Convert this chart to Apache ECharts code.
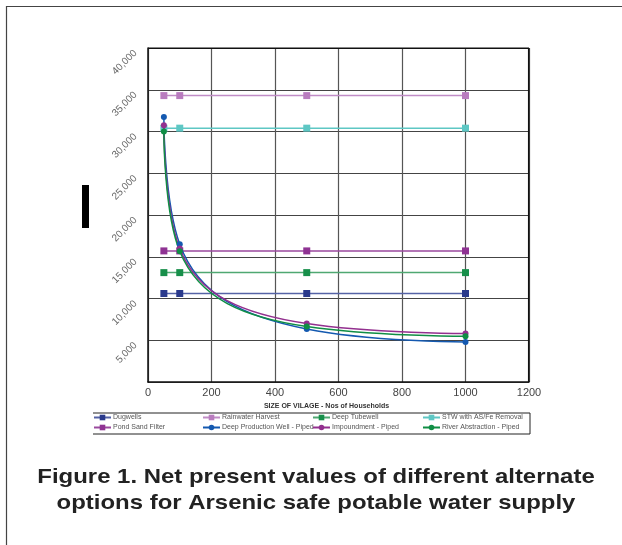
<!DOCTYPE html>
<html>
<head>
<meta charset="utf-8">
<script src="https://cdn.jsdelivr.net/npm/echarts@6/dist/echarts.min.js"></script>
<style>
html,body{margin:0;padding:0;background:#fff;}
#c{width:622px;height:545px;}
</style>
</head>
<body>
<div id="c"></div>
<script>
// Data
const xHouseholds = [50, 100, 500, 1000];
const xTicks = [0, 200, 400, 600, 800, 1000, 1200];
const yTicks = [0, 5000, 10000, 15000, 20000, 25000, 30000, 35000, 40000];
const seriesNames = ['Dugwells', 'Rainwater Harvest', 'Deep Tubewell', 'STW with AS/Fe Removal',
  'Pond Sand Filter', 'Deep Production Well - Piped', 'Impoundment - Piped', 'River Abstraction - Piped'];
const dugwells = [10600, 10600, 10600, 10600];
const rainwaterHarvest = [34300, 34300, 34300, 34300];
const deepTubewell = [13100, 13100, 13100, 13100];
const stwAsFe = [30400, 30400, 30400, 30400];
const pondSandFilter = [15700, 15700, 15700, 15700];
const deepProductionWell = [31750, 16500, 6350, 4800];
const impoundment = [30750, 16000, 7000, 5800];
const riverAbstraction = [30000, 15650, 6650, 5480];
const xTitle = 'SIZE OF VILAGE - Nos of Households';
const figTitle = ['Figure 1. Net present values of different alternate', 'options for Arsenic safe potable water supply'];

const colors = ['#2a3a8c', '#b97cbf', '#178f4a', '#5ec7c4', '#8f3393', '#1459b0', '#93308f', '#108e45'];
const lineColors = ['#5563a6', '#c08cc6', '#4fa872', '#5ec7c4', '#9a4a9e', '#1459b0', '#93308f', '#108e45'];
const values = [dugwells, rainwaterHarvest, deepTubewell, stwAsFe, pondSandFilter, deepProductionWell, impoundment, riverAbstraction];

const series = values.map((vals, i) => {
  const curve = i >= 5;
  return {
    name: seriesNames[i],
    type: 'line',
    data: xHouseholds.map((x, k) => [x, vals[k]]),
    symbol: curve ? 'circle' : 'rect',
    symbolSize: curve ? 6 : 7,
    smooth: curve ? 0.45 : false,
    lineStyle: {color: lineColors[i], width: 1.5},
    itemStyle: {color: colors[i]},
    z: curve ? 3 : 2
  };
});

const legendCols = [[0, 4], [1, 5], [2, 6], [3, 7]];
const legendLeft = [93, 202, 312, 422];
const legends = legendCols.map((pair, c) => ({
  orient: 'vertical',
  left: legendLeft[c],
  top: 413,
  itemGap: 1,
  itemWidth: 17,
  itemHeight: 7,
  padding: 0,
  selectedMode: false,
  textStyle: {fontSize: 7, lineHeight: 9, color: '#555', fontFamily: 'Liberation Sans', padding: [0, 0, 0, -3]},
  data: pair.map(p => seriesNames[p])
}));

const chart = echarts.init(document.getElementById('c'));
chart.setOption({
  animation: false,
  backgroundColor: '#fff',
  grid: {left: 148, right: 93, top: 48, bottom: 163, containLabel: false},
  xAxis: {
    type: 'value', min: xTicks[0], max: xTicks[xTicks.length - 1], interval: 200,
    axisLine: {show: true, lineStyle: {color: '#111', width: 1.5}},
    axisTick: {show: false},
    axisLabel: {fontSize: 11, color: '#444', margin: 5, fontFamily: 'Liberation Sans', formatter: v => String(v)},
    splitLine: {show: true, lineStyle: {color: '#555', width: 1.2}},
    name: xTitle, nameLocation: 'middle', nameGap: 17,
    nameTextStyle: {fontSize: 7, fontWeight: 'bold', color: '#333', fontFamily: 'Liberation Sans', padding: [0, 24, 0, 0]}
  },
  yAxis: {
    type: 'value', min: yTicks[0], max: yTicks[yTicks.length - 1], interval: 5000,
    axisLine: {show: true, lineStyle: {color: '#111', width: 1.5}},
    axisTick: {show: false},
    axisLabel: {
      fontSize: 10, color: '#666', rotate: 45, margin: 9, fontFamily: 'Liberation Sans',
      formatter: v => v === 0 ? '' : v.toLocaleString('en-US'),
      padding: [10, 5, 0, 0]
    },
    splitLine: {show: true, lineStyle: {color: '#444', width: 1.2}}
  },
  legend: legends,
  series: series,
  graphic: [
    {type: 'rect', left: 4, top: 4, shape: {width: 700, height: 700}, style: {fill: 'none', stroke: '#444', lineWidth: 1.2}, silent: true},
    {type: 'line', shape: {x1: 528.7, y1: 48, x2: 528.7, y2: 382}, style: {stroke: '#111', lineWidth: 1.5}, z: 10},
    {type: 'line', shape: {x1: 148, y1: 48.3, x2: 529, y2: 48.3}, style: {stroke: '#111', lineWidth: 1.5}, z: 10},
    {type: 'rect', shape: {x: 82, y: 185, width: 7, height: 43}, style: {fill: '#000'}},
    {type: 'polyline', shape: {points: [[93, 413], [530, 413], [530, 434], [93, 434]]}, style: {stroke: '#222', lineWidth: 1, fill: 'none'}},
    {type: 'text', x: 316, y: 464, scaleX: 1.14, style: {x: 0, y: 0, text: figTitle.join('\n'), font: 'bold 21px "Liberation Sans"', fill: '#222', textAlign: 'center', textVerticalAlign: 'top', lineHeight: 26}}
  ]
});
</script>
</body>
</html>
